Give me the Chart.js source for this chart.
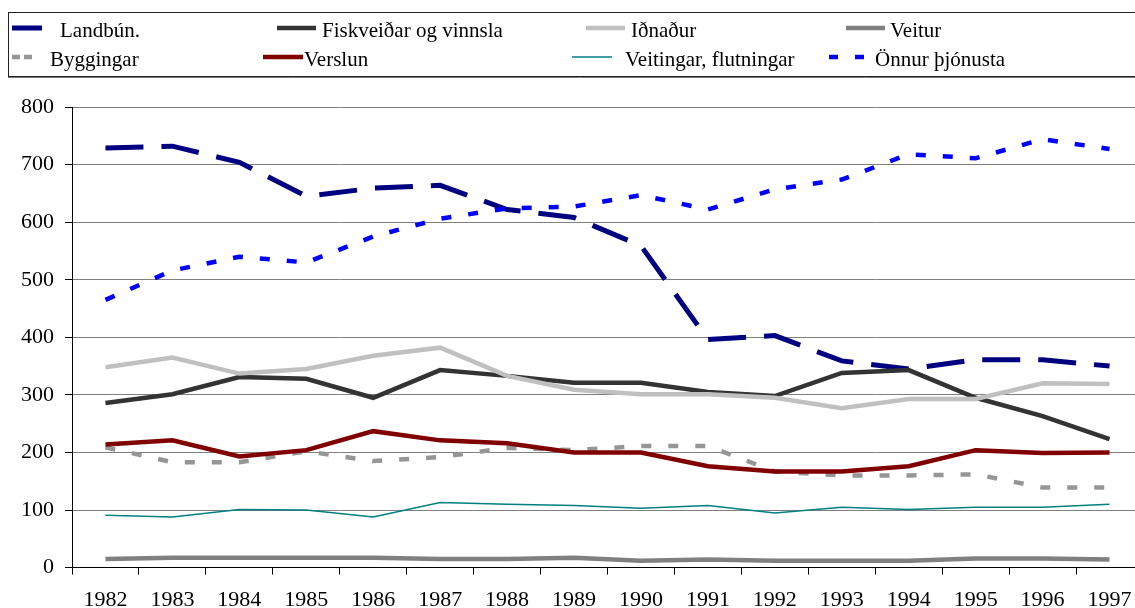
<!DOCTYPE html>
<html>
<head>
<meta charset="utf-8">
<script src="https://cdn.jsdelivr.net/npm/chart.js@4/dist/chart.umd.min.js"></script>
<style>
  html, body { margin: 0; padding: 0; background: #fff; overflow: hidden; }
  #wrap { width: 1135px; height: 608px; overflow: hidden; position: relative; }
</style>
</head>
<body>
<div id="wrap"><canvas id="chart" width="1150" height="612"></canvas></div>
<script>
const years = ['1982','1983','1984','1985','1986','1987','1988','1989','1990','1991','1992','1993','1994','1995','1996','1997'];

const landbun     = [729, 732, 704, 645, 659, 664, 622, 608, 559, 396, 403, 359, 345, 361, 361, 350];
const fiskveidar  = [286, 301, 331, 328, 295, 343, 333, 321, 321, 305, 298, 338, 343, 295, 263, 223];
const idnadur     = [348, 365, 337, 345, 368, 382, 333, 309, 301, 301, 295, 277, 293, 293, 320, 319];
const veitur      = [15, 17, 17, 17, 17, 15, 15, 17, 12, 14, 12, 12, 12, 16, 16, 14];
const byggingar   = [209, 183, 183, 202, 185, 192, 208, 204, 211, 211, 167, 160, 160, 162, 139, 139];
const verslun     = [214, 221, 193, 204, 237, 221, 216, 200, 200, 176, 167, 167, 176, 204, 199, 200];
const veitingar   = [91, 88, 101, 100, 88, 113, 110, 108, 103, 108, 95, 105, 101, 105, 105, 110];
const onnur       = [465, 516, 540, 530, 575, 606, 624, 627, 647, 622, 657, 674, 718, 711, 744, 727];

const yTicks = [0, 100, 200, 300, 400, 500, 600, 700, 800];

const FONT = '"Liberation Serif", "Times New Roman", serif';

const series = [
  { label: 'Landbún.', data: landbun, color: '#000080', width: 5, dash: [38, 18], key: [] },
  { label: 'Fiskveiðar og vinnsla', data: fiskveidar, color: '#333333', width: 4.5, dash: [], key: [] },
  { label: 'Iðnaður', data: idnadur, color: '#C0C0C0', width: 4.5, dash: [], key: [] },
  { label: 'Veitur', data: veitur, color: '#808080', width: 4.5, dash: [], key: [] },
  { label: 'Byggingar', data: byggingar, color: '#969696', width: 4.5, dash: [10, 17], key: [8, 4] },
  { label: 'Verslun', data: verslun, color: '#800000', width: 4.5, dash: [], key: [] },
  { label: 'Veitingar, flutningar', data: veitingar, color: '#008080', width: 1.5, dash: [], key: [] },
  { label: 'Önnur þjónusta', data: onnur, color: '#0000FF', width: 4.5, dash: [10, 17], key: [9, 17] }
];

// legend slots: [sample x0, sample x1, text x, row y]
const legendSlots = [
  [12, 42, 60, 31], [277, 316, 322, 31], [586, 625, 631, 31], [846, 885, 890, 31],
  [12, 32, 50, 60], [263, 303, 304, 60], [572, 612, 625, 60], [829, 864, 875, 60]
];

const legendPlugin = {
  id: 'boxLegend',
  afterDraw(chart) {
    const ctx = chart.ctx;
    ctx.save();
    ctx.strokeStyle = '#222';
    ctx.lineWidth = 1;
    ctx.strokeRect(8.5, 12.5, 1200, 64);
    ctx.strokeStyle = '#777';
    ctx.beginPath(); ctx.moveTo(8, 77.5); ctx.lineTo(1200, 77.5); ctx.stroke();
    ctx.font = '21px ' + FONT;
    ctx.textBaseline = 'middle';
    ctx.fillStyle = '#000';
    chart.data.datasets.forEach((ds, i) => {
      const s = legendSlots[i];
      ctx.strokeStyle = ds.borderColor;
      ctx.lineWidth = ds.borderWidth;
      ctx.setLineDash(series[i].key);
      ctx.beginPath();
      ctx.moveTo(s[0], s[3] - 3);
      ctx.lineTo(s[1], s[3] - 3);
      ctx.stroke();
      ctx.setLineDash([]);
      ctx.fillText(ds.label, s[2], s[3]);
    });
    ctx.restore();
  }
};

new Chart(document.getElementById('chart'), {
  type: 'line',
  data: {
    labels: years,
    datasets: series.map((s, i) => ({
      label: s.label,
      data: s.data,
      borderColor: s.color,
      backgroundColor: s.color,
      borderWidth: s.width,
      borderDash: s.dash,
      pointRadius: 0,
      tension: 0,
      fill: false,
      order: series.length - i
    }))
  },
  options: {
    responsive: false,
    animation: false,
    devicePixelRatio: 1,
    layout: { padding: { top: 107, left: 10, right: 7, bottom: -13 } },
    plugins: { legend: { display: false }, tooltip: { enabled: false } },
    scales: {
      x: {
        offset: true,
        grid: { offset: true, drawOnChartArea: false, tickLength: 7, color: '#000' },
        border: { color: '#000', width: 1 },
        ticks: { color: '#000', font: { family: FONT, size: 22 }, padding: 12, maxRotation: 0, autoSkip: false }
      },
      y: {
        min: 0,
        max: 800,
        afterBuildTicks: (axis) => { axis.ticks = yTicks.map(v => ({ value: v })); },
        grid: { color: '#808080', tickColor: '#000', tickLength: 7 },
        border: { color: '#000', width: 1 },
        ticks: { color: '#000', font: { family: FONT, size: 22 }, padding: 11 }
      }
    }
  },
  plugins: [legendPlugin]
});
</script>
</body>
</html>
